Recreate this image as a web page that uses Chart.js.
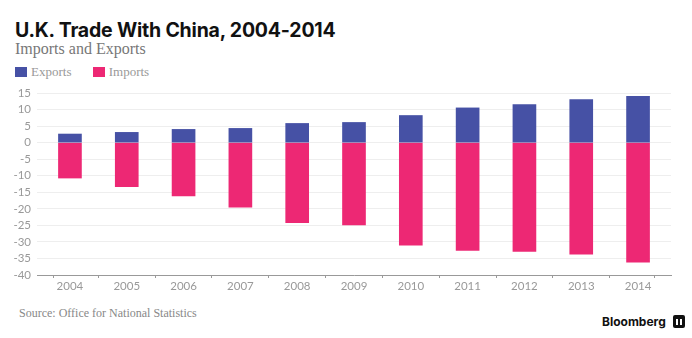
<!DOCTYPE html>
<html>
<head>
<meta charset="utf-8">
<script src="https://cdn.jsdelivr.net/npm/chart.js@4.4.1/dist/chart.umd.min.js"></script>
<style>
  body { margin: 0; background: #fff; width: 692px; height: 338px; overflow: hidden; position: relative; }
  .title { position: absolute; left: 15px; top: 18px; font: bold 19.5px "Inter", sans-serif; color: #111; letter-spacing: -0.2px; }
  .subtitle { position: absolute; left: 15px; top: 40px; font: 16px "Liberation Serif", serif; color: #777; }
  .legend { position: absolute; left: 15px; top: 64px; font: 13px "Liberation Serif", serif; color: #999; }
  .legend span.item { display: inline-block; margin-right: 18px; }
  .legend i { display: inline-block; width: 12px; height: 10px; margin-right: 4px; vertical-align: -1px; }
  .chart-wrap { position: absolute; left: 0; top: 80px; width: 692px; height: 215px; }
  .source { position: absolute; left: 19px; top: 306px; font: 12px "Liberation Serif", serif; color: #888; }
  .brand { position: absolute; left: 602px; top: 314px; font: bold 12px "Inter", sans-serif; color: #111; }
  .brand b { display: inline-block; width: 12px; height: 13px; background: #111; border-radius: 2px; margin-left: 7px; vertical-align: -2px; position: relative; }
  .brand b::after { content: ""; position: absolute; left: 3px; right: 3px; bottom: 3px; height: 6px;
    background: linear-gradient(90deg, #fff 0 2px, transparent 2px 4px, #fff 4px 6px); }
</style>
</head>
<body>
<div class="title">U.K. Trade With China, 2004-2014</div>
<div class="subtitle">Imports and Exports</div>
<div class="legend">
  <span class="item"><i style="background:#4651a5"></i>Exports</span>
  <span class="item"><i style="background:#ed2874"></i>Imports</span>
</div>
<div class="chart-wrap"><canvas id="trade"></canvas></div>
<div class="source">Source: Office for National Statistics</div>
<div class="brand">Bloomberg<b></b></div>

<script>
const years = [2004, 2005, 2006, 2007, 2008, 2009, 2010, 2011, 2012, 2013, 2014];
const exportsBn = [2.6, 3.1, 4.0, 4.3, 5.8, 6.1, 8.2, 10.5, 11.5, 13.0, 14.0];
const importsBn = [-10.7, -13.3, -16.1, -19.5, -24.2, -24.9, -31.0, -32.6, -32.9, -33.7, -36.1];
const yTicks = [-40, -35, -30, -25, -20, -15, -10, -5, 0, 5, 10, 15];

// the axis runs a little past the first and last year
const xMin = 2003.42;
const xMax = 2014.58;

function points(values) {
  return values.map((v, i) => ({ x: years[i], y: v }));
}

function drawChart() {
  new Chart(document.getElementById("trade"), {
    type: "bar",
    data: {
      datasets: [
        { label: "Exports", data: points(exportsBn), backgroundColor: "#4651a5", barThickness: 23 },
        { label: "Imports", data: points(importsBn), backgroundColor: "#ed2874", barThickness: 23 },
      ],
    },
    options: {
      responsive: true,
      maintainAspectRatio: false,
      animation: false,
      layout: { padding: { top: 13, right: 21, left: 0, bottom: 0 } },
      plugins: { legend: { display: false }, tooltip: { enabled: false } },
      scales: {
        x: {
          type: "linear",
          stacked: true,
          offset: false,
          min: xMin,
          max: xMax,
          afterFit: (scale) => { scale.height = 20; },
          afterBuildTicks: (scale) => {
            scale.ticks = [xMin, ...years, xMax].map((v) => ({ value: v }));
          },
          border: { color: "#999" },
          grid: { drawOnChartArea: false, color: "#999", tickLength: 3 },
          ticks: {
            autoSkip: false,
            maxRotation: 0,
            padding: 1,
            color: "#999",
            font: { family: "Lato", size: 11.5 },
            callback: (v) => (Number.isInteger(v) ? String(v) : ""),
          },
        },
        y: {
          stacked: true,
          min: yTicks[0],
          max: yTicks[yTicks.length - 1],
          afterFit: (scale) => { scale.width = 37; },
          afterBuildTicks: (scale) => { scale.ticks = yTicks.map((v) => ({ value: v })); },
          border: { display: false },
          grid: { color: "#eeeeee", drawTicks: false },
          ticks: {
            autoSkip: false,
            padding: 6,
            color: "#999",
            font: { family: "Lato", size: 11.5 },
          },
        },
      },
    },
  });
}

window.addEventListener("load", drawChart);
</script>
</body>
</html>
